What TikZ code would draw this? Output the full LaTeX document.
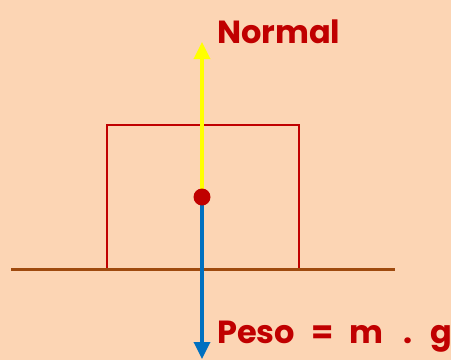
\documentclass[tikz,border=0pt]{standalone}
\usepackage{fontspec}
\setmainfont{Poppins}
\definecolor{fondo}{HTML}{FCD5B4}
\definecolor{rojo}{HTML}{C00000}
\definecolor{suelo}{HTML}{9E4A0E}
\definecolor{amarillo}{HTML}{FFFF00}
\definecolor{azul}{HTML}{0070C0}
\usetikzlibrary{arrows.meta,positioning}

\begin{document}
\begin{tikzpicture}[x=1pt, y=-1pt, >={Triangle[length=17pt,width=16pt]},
    bloque/.style={draw=rojo, line width=2.8pt, minimum width=192pt, minimum height=144pt, inner sep=0pt},
    fuerza/.style={->, line width=3.4pt},
    etiqueta/.style={text=rojo, font=\fontsize{32}{36}\selectfont\bfseries, inner sep=0pt}]

  % fondo y marco
  \fill[fondo] (0,0) rectangle (451,360);
  \useasboundingbox (0,0) rectangle (451,360);

  \node[bloque] (caja) at (203,197) {};
  \coordinate (sueloA) at (11,269);
  \coordinate (sueloB) at (395,269);
  \draw[suelo, line width=3pt] (sueloA) -- (sueloB);

  % fuerzas
  \coordinate (cg) at (202,197);
  \coordinate (ntip) at (202,42);
  \coordinate (ptip) at (202,359);
  \draw[fuerza, amarillo] (cg) -- (ntip);
  \draw[fuerza, azul] (cg) -- (ptip);
  \fill[rojo] (cg) circle (8.5);

  \node[etiqueta, anchor=base west] (normal) at (217,43) {Normal};
  \node[etiqueta, anchor=base west] (peso) at (217,343)
    {Peso\hspace{16pt}=\hspace{16pt}m\hspace{20pt}.\hspace{18pt}g};
\end{tikzpicture}
\end{document}
